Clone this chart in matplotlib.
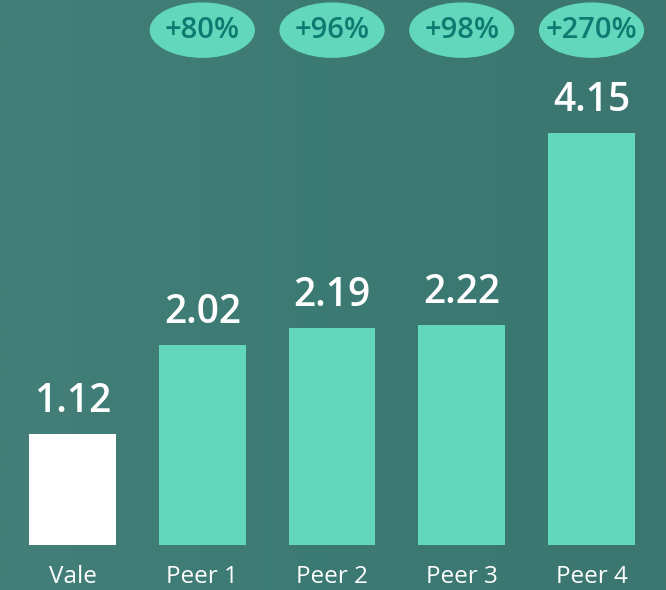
import matplotlib.pyplot as plt
from matplotlib.patches import Ellipse
import numpy as np

# data
categories = ['Vale', 'Peer 1', 'Peer 2', 'Peer 3', 'Peer 4']
values = [1.12, 2.02, 2.19, 2.22, 4.15]
value_labels = ['1.12', '2.02', '2.19', '2.22', '4.15']
pct_labels = ['', '+80%', '+96%', '+98%', '+270%']

bg = '#3e7b75'
mint = '#62d7bc'
bar_colors = ['#ffffff', mint, mint, mint, mint]

plt.rcParams['font.family'] = ['Open Sans', 'DejaVu Sans']

fig = plt.figure(figsize=(6.66, 5.9), dpi=100)
fig.patch.set_facecolor(bg)
ax = fig.add_axes([0, 0, 1, 1])
ax.set_facecolor(bg)

# soft background shading
grad = np.linspace(0, 1, 256).reshape(1, -1)
ax.imshow(grad, extent=[-0.56, 4.58, -0.46, 5.5], aspect='auto',
          cmap=plt.matplotlib.colors.LinearSegmentedColormap.from_list(
              'bgc', ['#447f79', '#3b7a73', '#3c7670']),
          zorder=0, alpha=1)

x = np.arange(len(categories))
ax.bar(x, values, width=0.67, color=bar_colors, zorder=2)

for i, (v, lab) in enumerate(zip(values, value_labels)):
    ax.text(x[i], v + 0.12, lab, ha='center', va='bottom', color='white',
            fontsize=28, fontweight='semibold', zorder=3)
    ax.text(x[i], -0.32, categories[i], ha='center', va='center',
            color='white', fontsize=17.5, zorder=3)
    if pct_labels[i]:
        ax.add_patch(Ellipse((x[i], 5.19), 0.80, 0.545, color=mint, zorder=2))
        ax.text(x[i], 5.19, pct_labels[i], ha='center', va='center',
                color='#0f7a70', fontsize=21, fontweight='semibold', zorder=3)

ax.set_xlim(-0.559, 4.574)
ax.set_ylim(-0.4536, 5.494)
ax.axis('off')

fig.savefig('out.png', dpi=100, facecolor=bg)
